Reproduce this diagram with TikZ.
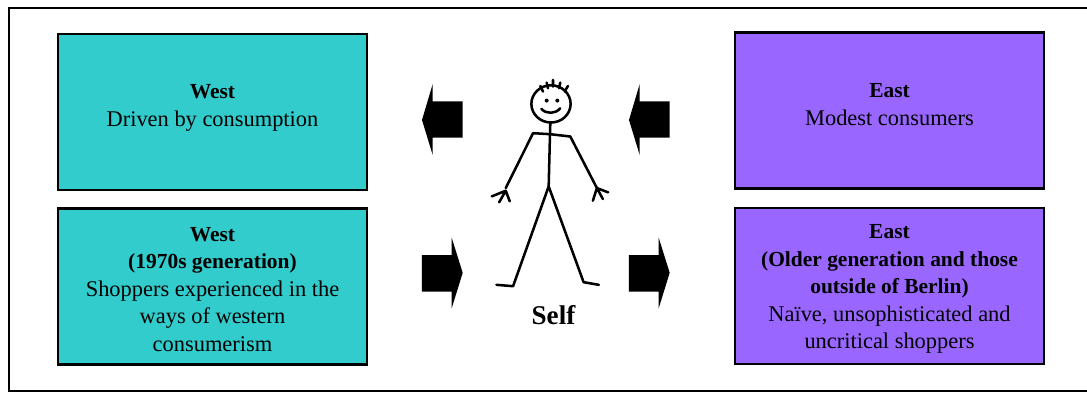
\documentclass[tikz,border=0pt]{standalone}
\usepackage{fontspec}
\setmainfont{Liberation Serif}
\usetikzlibrary{positioning}
\definecolor{westfill}{HTML}{33CCCC}
\definecolor{eastfill}{HTML}{9966FF}
\newcommand{\boxhead}[1]{{\fontsize{6.1}{7.8}\selectfont\bfseries #1}}
\tikzset{
  panel/.style={draw=black,line width=.6pt,minimum width=#1,minimum height=1.56cm,inner sep=0pt},
  westbox/.style={panel=3.09cm,fill=westfill},
  eastbox/.style={panel=3.09cm,fill=eastfill},
  boxtext/.style={align=center,font=\fontsize{6.38}{7.8}\selectfont,inner sep=0pt},
  blockarrow/.style={fill=black},
  stick/.style={line width=.72pt,line cap=round,line join=round}
}
\begin{document}
\begin{tikzpicture}
  \useasboundingbox (0,0) rectangle (10.87,3.92);
  \draw[line width=.6pt] (11,3.84) -- (.09,3.84) -- (.09,.01) -- (11,.01);

  \node[westbox] (westtop) at (2.125,2.80) {};
  \node[westbox] (westlow) at (2.125,1.055) {};
  \node[eastbox] (easttop) at (8.895,2.815) {};
  \node[eastbox] (eastlow) at (8.895,1.06) {};

  \node[boxtext] (westtoptext) at ([yshift=.04cm]westtop) {\boxhead{West}\\Driven by consumption};
  \node[boxtext] (westlowtext) at ([yshift=-.03cm]westlow) {\boxhead{West}\\\boxhead{(1970s generation)}\\Shoppers experienced in the\\ways of western\\consumerism};
  \node[boxtext] (easttoptext) at ([yshift=.06cm]easttop) {\boxhead{East}\\Modest consumers};
  \node[boxtext] (eastlowtext) at ([yshift=-.03cm]eastlow) {\boxhead{East}\\\boxhead{(Older generation and those}\\\boxhead{outside of Berlin)}\\Naïve, unsophisticated and\\uncritical shoppers};

  \foreach \x in {4.22,6.29}{
    \fill[blockarrow] (\x,2.72) -- (\x+.107,3.08) -- (\x+.107,2.906) -- (\x+.407,2.906) -- (\x+.407,2.543) -- (\x+.107,2.543) -- (\x+.107,2.37) -- cycle;
  }
  \foreach \x in {4.22,6.29}{
    \fill[blockarrow] (\x+.407,1.192) -- (\x+.297,1.543) -- (\x+.297,1.37) -- (\x,1.37) -- (\x,1.003) -- (\x+.297,1.003) -- (\x+.297,.837) -- cycle;
  }

  \begin{scope}[shift={(4,3.32)},x=.003333cm,y=-.003333cm,stick]
    \draw (454,132) ellipse [x radius=59,y radius=56];
    \draw (422,78) -- (430,95) (441,68) -- (445,85) (460,60) -- (460,80) (482,68) -- (478,85) (505,78) -- (495,95);
    \fill (441,122) circle [radius=6] (473,122) circle [radius=6];
    \draw (425,147) .. controls (440,163) and (467,163) .. (482,145);
    \draw (452,187) -- (451,222) -- (447,380);
    \draw (318,385) -- (400,220) -- (451,223) -- (512,230) -- (592,385);
    \draw (276,410) -- (318,393) -- (298,428) (318,393) -- (330,425);
    \draw (626,398) -- (592,385) -- (580,423) (592,385) -- (610,418);
    \draw (290,676) -- (340,680) -- (447,380) -- (552,668) -- (598,676);
  \end{scope}
  \node[boxtext,font=\fontsize{7.7}{9}\selectfont\bfseries] (selflabel) at (5.535,.77) {Self};
\end{tikzpicture}
\end{document}
